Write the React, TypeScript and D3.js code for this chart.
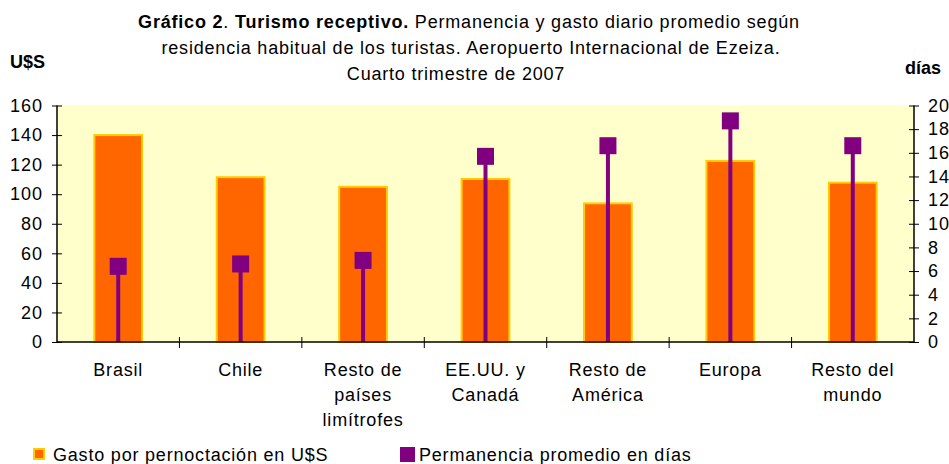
import React, { useEffect, useRef } from "react";
import * as d3 from "d3";

const categories = [
  ["Brasil"],
  ["Chile"],
  ["Resto de", "países", "limítrofes"],
  ["EE.UU. y", "Canadá"],
  ["Resto de", "América"],
  ["Europa"],
  ["Resto del", "mundo"],
];
const gasto = [140, 111.5, 105, 110.3, 93.8, 122.5, 107.8];
const dias = [6.4, 6.6, 6.9, 15.7, 16.6, 18.7, 16.6];
const leftTicks = [0, 20, 40, 60, 80, 100, 120, 140, 160];
const rightTicks = [0, 2, 4, 6, 8, 10, 12, 14, 16, 18, 20];

const W = 949;
const H = 464;
const margin = { left: 57, right: 35, top: 105.5, bottom: 122 };
const font = "'Liberation Sans', Arial, sans-serif";
const fs = 18;
const ls = 0.8;

export default function App() {
  const ref = useRef<SVGSVGElement>(null);

  useEffect(() => {
    const svg = d3.select(ref.current);
    svg.selectAll("*").remove();

    const x0 = margin.left;
    const x1 = W - margin.right;
    const y0 = H - margin.bottom;
    const y1 = margin.top;
    const idx = categories.map((_, i) => String(i));

    const x = d3.scaleBand().domain(idx).range([x0, x1]).paddingInner(0).paddingOuter(0);
    const yL = d3.scaleLinear().domain([0, 160]).range([y0, y1]);
    const yR = d3.scaleLinear().domain([0, 20]).range([y0, y1]);
    const cx = (i: number) => x(String(i))! + x.bandwidth() / 2;

    svg.append("rect").attr("x", x0).attr("y", y1).attr("width", x1 - x0).attr("height", y0 - y1).attr("fill", "#FFFFCC");

    // bars
    const bw = x.bandwidth() * 0.39;
    svg.selectAll(".bar").data(gasto).join("rect").attr("class", "bar")
      .attr("x", (d, i) => cx(i) - bw / 2)
      .attr("y", d => yL(d))
      .attr("width", bw)
      .attr("height", d => y0 - yL(d))
      .attr("fill", "#FF6600").attr("stroke", "#FFCC00").attr("stroke-width", 2);

    // drop lines + markers
    svg.selectAll(".drop").data(dias).join("line").attr("class", "drop")
      .attr("x1", (d, i) => cx(i)).attr("x2", (d, i) => cx(i))
      .attr("y1", y0).attr("y2", d => yR(d))
      .attr("stroke", "#800080").attr("stroke-width", 4);
    const ms = 17;
    svg.selectAll(".mk").data(dias).join("rect").attr("class", "mk")
      .attr("x", (d, i) => cx(i) - ms / 2)
      .attr("y", d => yR(d) - ms / 2)
      .attr("width", ms).attr("height", ms)
      .attr("fill", "#800080");

    // axes
    const axisL = svg.append("g").attr("transform", `translate(${x0},0)`)
      .call(d3.axisLeft(yL).tickValues(leftTicks).tickSize(5).tickPadding(9));
    axisL.selectAll(".tick line").attr("x2", -5).attr("x1", 5);
    const axisR = svg.append("g").attr("transform", `translate(${x1},0)`)
      .call(d3.axisRight(yR).tickValues(rightTicks).tickSize(5).tickPadding(9));
    axisR.selectAll(".tick line").attr("x2", 5).attr("x1", -5);
    const axisB = svg.append("g").attr("transform", `translate(0,${y0})`)
      .call(d3.axisBottom(x).tickSize(0).tickFormat(() => ""));
    axisB.select(".domain").attr("d", `M${x0},0H${x1}`);
    [axisL, axisR].forEach(a => a.select(".domain").attr("d", `M0,${y0}V${y1}`));
    svg.selectAll(".domain").attr("stroke", "#000").attr("stroke-width", 1.5);
    svg.selectAll(".tick line").attr("stroke", "#000");
    svg.selectAll(".tick text").attr("font-size", fs).attr("font-family", font).attr("letter-spacing", 1).attr("fill", "#000");

    // category separator ticks
    svg.selectAll(".ctick").data(d3.range(1, categories.length)).join("line").attr("class", "ctick")
      .attr("x1", i => x(String(i))!).attr("x2", i => x(String(i))!)
      .attr("y1", y0 - 5).attr("y2", y0 + 6).attr("stroke", "#000");

    // category labels
    categories.forEach((lines, i) => {
      const t = svg.append("text").attr("x", cx(i)).attr("y", 376)
        .attr("text-anchor", "middle").attr("font-size", fs).attr("font-family", font).attr("letter-spacing", ls);
      lines.forEach((l, j) => t.append("tspan").attr("x", cx(i)).attr("dy", j === 0 ? 0 : 25).text(l));
    });

    // title
    const title = svg.append("g").attr("font-family", font).attr("font-size", fs).attr("letter-spacing", ls).attr("text-anchor", "middle");
    const t1 = title.append("text").attr("x", 469).attr("y", 28);
    t1.append("tspan").attr("font-weight", "bold").text("Gráfico 2");
    t1.append("tspan").text(". ");
    t1.append("tspan").attr("font-weight", "bold").text("Turismo receptivo.");
    t1.append("tspan").text(" Permanencia y gasto diario promedio según");
    title.append("text").attr("x", 471).attr("y", 54).text("residencia habitual de los turistas. Aeropuerto Internacional de Ezeiza.");
    title.append("text").attr("x", 456).attr("y", 80).text("Cuarto trimestre de 2007");

    svg.append("text").attr("x", 10).attr("y", 68).attr("font-family", font).attr("font-size", fs).attr("font-weight", "bold").text("U$S");
    svg.append("text").attr("x", 905).attr("y", 74).attr("font-family", font).attr("font-size", fs).attr("font-weight", "bold").text("días");

    // legend
    const lg = svg.append("g").attr("font-family", font).attr("font-size", fs).attr("letter-spacing", ls);
    lg.append("rect").attr("x", 34).attr("y", 449).attr("width", 10).attr("height", 10).attr("fill", "#FF6600").attr("stroke", "#FFCC00").attr("stroke-width", 2);
    lg.append("text").attr("x", 53).attr("y", 461).text("Gasto por pernoctación en U$S");
    lg.append("rect").attr("x", 400).attr("y", 447).attr("width", 15).attr("height", 15).attr("fill", "#800080");
    lg.append("text").attr("x", 419).attr("y", 461).text("Permanencia promedio en días");
  }, []);

  return (
    <svg ref={ref} width={W} height={H} style={{ position: "absolute", left: 0, top: 0, background: "#fff" }} />
  );
}
